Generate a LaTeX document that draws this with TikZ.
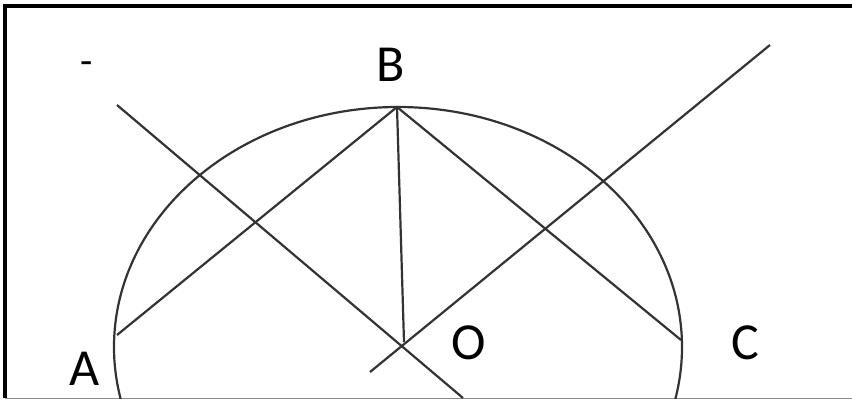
\documentclass[tikz,border=0pt]{standalone}
\usepackage{fontspec}
\setmainfont{Carlito}
\tikzset{
  geoline/.style={line width=2.2pt, black!80},
  ptlabel/.style={font=\fontsize{52}{60}\selectfont, inner sep=0pt}
}
\begin{document}
\begin{tikzpicture}[x=1pt,y=-1pt]
\useasboundingbox (0,0) rectangle (852,400);
\fill[white] (0,0) rectangle (852,400);
% frame
\draw[line width=4pt] (5,398) -- (5,6) -- (852,6);
\draw[line width=1.5pt, black!45] (5,398.5) -- (852,398.5);
% points
\coordinate (A) at (117,335);
\coordinate (B) at (397,107);
\coordinate (C) at (681,340);
\coordinate (O) at (404,342);
\coordinate (p1) at (117,105);
\coordinate (p2) at (463,398);
\coordinate (q1) at (370,372);
\coordinate (q2) at (770,45);
% circle, cut off by the frame
\begin{scope}
\clip (6,8) rectangle (852,398);
\draw[geoline] (398,347) ellipse [x radius=284, y radius=240];
\end{scope}
\draw[geoline] (A) -- (B) -- (C);
\draw[geoline] (B) -- (O);
\draw[geoline] (p1) -- (p2);
\draw[geoline] (q1) -- (q2);
% labels
\node[ptlabel] (lB) at (391,65) {B};
\node[ptlabel] (lA) at (85,369) {A};
\node[ptlabel] (lO) at (469,343) {O};
\node[ptlabel] (lC) at (745,343) {C};
\node[font=\fontsize{40}{44}\selectfont, inner sep=0pt] (dash) at (87,68) {-};
\end{tikzpicture}
\end{document}
